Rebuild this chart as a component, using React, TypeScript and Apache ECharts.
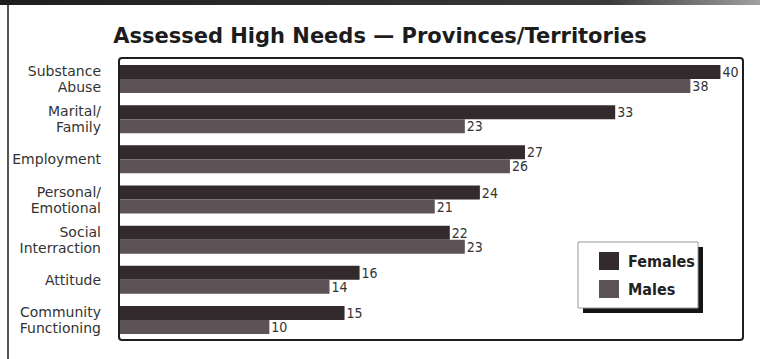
import React, { useEffect, useRef } from "react";
import * as echarts from "echarts";

const categories = [
  "Substance\nAbuse",
  "Marital/\nFamily",
  "Employment",
  "Personal/\nEmotional",
  "Social\nInterraction",
  "Attitude",
  "Community\nFunctioning",
];
const females = [40, 33, 27, 24, 22, 16, 15];
const males = [38, 23, 26, 21, 23, 14, 10];
const titleText = "Assessed High Needs \u2014 Provinces/Territories";
const seriesNames = ["Females", "Males"];

const FEMALE = "#322a2d";
const MALE = "#5d5255";
const FONT = "'DejaVu Sans Condensed', 'DejaVu Sans', sans-serif";

export default function App() {
  const ref = useRef<HTMLDivElement>(null);
  useEffect(() => {
    if (!ref.current) return;
    const chart = echarts.init(ref.current, null, { renderer: "svg" });
    const labelStyle = {
      show: true,
      position: "right" as const,
      distance: 2,
      color: "#333",
      fontFamily: FONT,
      fontSize: 14,
    };
    chart.setOption({
      animation: false,
      backgroundColor: "#fff",
      title: {
        text: titleText,
        left: "center",
        top: 20,
        textStyle: {
          fontFamily: "'DejaVu Sans', sans-serif",
          fontWeight: "bold",
          fontSize: 21,
          color: "#1c1c1c",
        },
      },
      grid: { left: 119, right: 17, top: 59, bottom: 19, containLabel: false },
      xAxis: { type: "value", min: 0, max: 41.5, show: false },
      yAxis: {
        type: "category",
        data: categories,
        inverse: true,
        axisLine: { show: false },
        axisTick: { show: false },
        splitLine: { show: false },
        axisLabel: {
          margin: 18,
          color: "#333",
          fontFamily: "'DejaVu Sans', sans-serif",
          fontSize: 14,
          lineHeight: 16,
          align: "right",
        },
      },
      legend: {
        orient: "vertical",
        left: 599,
        top: 252,
        itemWidth: 20,
        itemHeight: 18,
        itemGap: 10,
        padding: 0,
        z: 20,
        icon: "rect",
        textStyle: {
          fontFamily: FONT,
          fontWeight: "bold",
          fontSize: 16,
          color: "#222",
          padding: [0, 0, 0, 4],
        },
        data: seriesNames,
      },
      series: [
        {
          name: seriesNames[0],
          type: "bar",
          data: females,
          barWidth: 14,
          barGap: "0%",
          itemStyle: { color: FEMALE },
          label: labelStyle,
        },
        {
          name: seriesNames[1],
          type: "bar",
          data: males,
          barWidth: 14,
          barGap: "0%",
          itemStyle: { color: MALE },
          label: labelStyle,
        },
      ],
      graphic: [
        {
          type: "rect",
          shape: { x: 0, y: 0, width: 760, height: 5 },
          style: {
            fill: new echarts.graphic.LinearGradient(0, 0, 1, 0, [
              { offset: 0, color: "#1e1e1e" },
              { offset: 0.8, color: "#3a3a3a" },
              { offset: 1, color: "#a0a0a0" },
            ]),
          },
          z: 1,
        },
        {
          type: "line",
          shape: { x1: 8, y1: 5, x2: 8, y2: 359 },
          style: { stroke: "#555", lineWidth: 2 },
          z: 1,
        },
        {
          type: "rect",
          shape: { x: 119, y: 58, width: 624, height: 282, r: 3 },
          style: { fill: "none", stroke: "#1e1e1e", lineWidth: 2 },
          z: 15,
        },
        {
          type: "rect",
          shape: { x: 583, y: 247, width: 120, height: 66 },
          style: { fill: "#141414" },
          z: 16,
        },
        {
          type: "rect",
          shape: { x: 578, y: 242, width: 120, height: 66 },
          style: { fill: "#fff", stroke: "#999", lineWidth: 1 },
          z: 17,
        },
      ],
    });
    return () => chart.dispose();
  }, []);
  return (
    <div
      ref={ref}
      style={{ position: "fixed", left: 0, top: 0, width: 760, height: 359 }}
    />
  );
}
